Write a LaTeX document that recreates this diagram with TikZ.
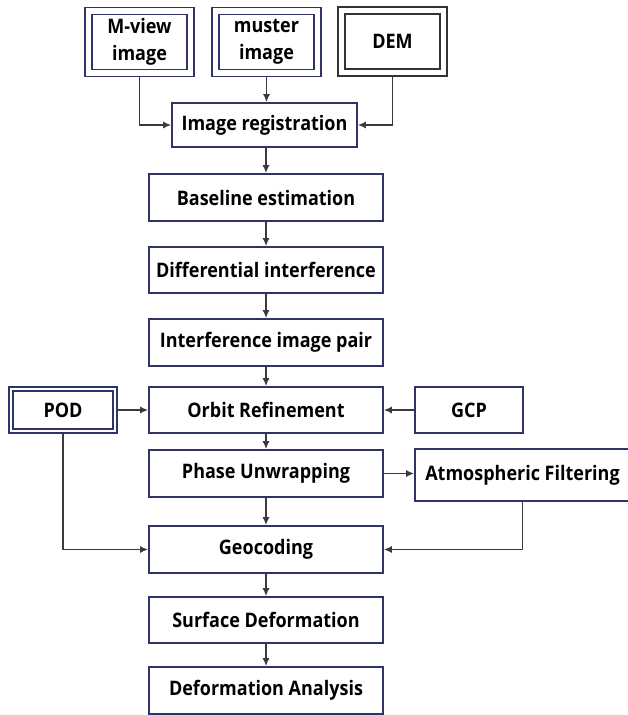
\documentclass[tikz,border=0pt]{standalone}
\usepackage{fontspec}
\setmainfont{Open Sans}[FakeStretch=0.9]
\usetikzlibrary{arrows.meta}
\definecolor{boxnavy}{HTML}{2E3566}
\definecolor{linegray}{HTML}{3A3A3A}
\definecolor{demgray}{HTML}{333333}
\begin{document}
\begin{tikzpicture}[x=1pt,y=-1pt,
  every node/.style={font=\fontsize{20}{27}\selectfont\bfseries, inner sep=0pt, align=center, text=black},
  box/.style={draw=boxnavy, line width=1.6pt, fill=white, minimum width=234pt, minimum height=46pt, outer sep=0.8pt},
  dbox/.style={draw=boxnavy, line width=1.6pt, double=white, double distance=5.4pt, minimum width=102pt, minimum height=62pt, outer sep=4.3pt},
  pbox/.style={draw=boxnavy, line width=1.6pt, double=white, double distance=2.4pt, minimum width=104pt, minimum height=42pt, outer sep=2.8pt},
  arr/.style={draw=linegray, line width=1.6pt, -{Latex[length=8pt,width=7pt]}}
]
\useasboundingbox (0,0) rectangle (627,715);
% top inputs
\node[dbox] (mview) at (139.5,42) {M-view\\image};
\node[dbox] (muster) at (266.5,42) {muster\\image};
\node[dbox, draw=demgray, line width=1.8pt] (dem) at (392.5,41.5) {DEM};
% main column
\node[box, minimum width=185pt, minimum height=44pt] (reg) at (264.5,125) {Image registration};
\node[box, minimum height=47pt] (base) at (266,197.5) {Baseline estimation};
\node[box] (diff) at (266,270) {Differential interference};
\node[box, minimum height=47pt] (pair) at (266,342.5) {Interference image pair};
\node[box] (orbit) at (266,410) {Orbit Refinement};
\node[box, minimum height=47pt] (phase) at (266,473.5) {Phase Unwrapping};
\node[box, minimum height=47pt] (geo) at (266,549.5) {Geocoding};
\node[box] (surf) at (266,620) {Surface Deformation};
\node[box, minimum height=47pt] (anal) at (266,690.5) {Deformation Analysis};
% side nodes
\node[pbox] (pod) at (63,410) {POD};
\node[box, minimum width=108pt] (gcp) at (469,410) {GCP};
\node[box, minimum width=215pt, minimum height=52pt] (atmo) at (522.5,475) {Atmospheric Filtering};
% connectors
\draw[arr] (mview.south) |- (reg.west);
\draw[arr] (muster.south) -- (muster.south |- reg.north);
\draw[arr] (dem.south) |- (reg.east);
\draw[arr] (base.north |- reg.south) -- (base.north);
\draw[arr] (base.south) -- (diff.north);
\draw[arr] (diff.south) -- (pair.north);
\draw[arr] (pair.south) -- (orbit.north);
\draw[arr] (pod.east) -- (orbit.west);
\draw[arr] (gcp.west) -- (orbit.east);
\draw[arr] (orbit.south) -- (phase.north);
\draw[arr] (phase.east) -- (phase.east -| atmo.west);
\draw[arr] (phase.south) -- (geo.north);
\draw[arr] (pod.south) |- (geo.west);
\draw[arr] (atmo.south) |- (geo.east);
\draw[arr] (geo.south) -- (surf.north);
\draw[arr] (surf.south) -- (anal.north);
\end{tikzpicture}
\end{document}
